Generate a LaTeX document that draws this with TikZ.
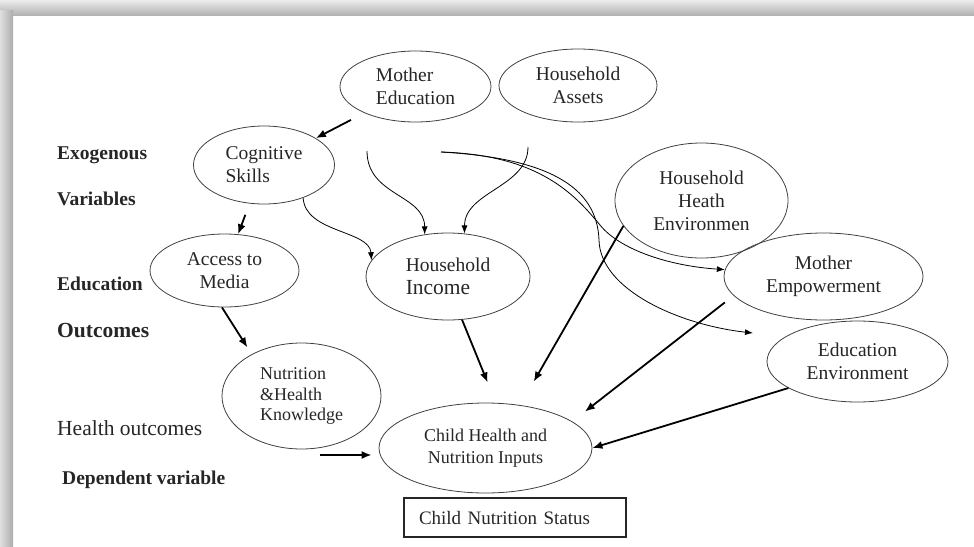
\documentclass[tikz,border=0pt]{standalone}
\usepackage{fontspec}
\setmainfont{Liberation Serif}
\usetikzlibrary{shapes,arrows,arrows.meta,positioning}
\tikzstyle{line} = [draw, -{Latex[length=8pt,width=6pt]}, line width=0.8pt]
\tikzstyle{thickline} = [draw, -{Latex[length=10pt,width=8pt]}, line width=1.8pt]
\tikzstyle{oval} = [draw=black!75, line width=0.8pt, ellipse, text centered, inner sep=0pt, text=black!85]
\tikzstyle{sidetext} = [anchor=base west, inner sep=0pt, text=black!85]
\tikzstyle{statusbox} = [draw=black!85, rectangle, line width=1.8pt, minimum height=39pt, text width=192pt, inner xsep=15pt, align=left, text=black!85]
\newcommand{\ovalfont}{\fontsize{19.5}{23}\selectfont}

\begin{document}
\begin{tikzpicture}[x=1pt, y=-1pt, font=\ovalfont]
        \useasboundingbox (0,0) rectangle (974,546);
        % screenshot frame
        \shade[top color=gray!15, bottom color=gray!60] (0,0) rectangle (974,15);
        \shade[left color=gray!25, right color=gray!65] (0,10) rectangle (13,546);
        % row labels
        \node[sidetext, font=\bfseries\ovalfont] (exo) at (57,159) {Exogenous};
        \node[sidetext, font=\bfseries\ovalfont] (vars) at (57,205) {Variables};
        \node[sidetext, font=\bfseries\ovalfont] (edu) at (57,290) {Education};
        \node[sidetext, font=\bfseries\fontsize{21.5}{23}\selectfont] (outc) at (57,337) {Outcomes};
        \node[sidetext, font=\fontsize{21.5}{23}\selectfont] (hout) at (57,435) {Health outcomes};
        \node[sidetext, font=\bfseries\ovalfont] (dep) at (62,484) {Dependent variable};
        % exogenous variables
        \node[oval, minimum width=151pt, minimum height=71pt, align=left] (medu) at (415.5,86.5) {Mother\\Education};
        \node[oval, minimum width=158pt, minimum height=73pt, align=center] (hassets) at (578,85.5) {Household\\Assets};
        \node[oval, minimum width=141pt, minimum height=78pt, align=left] (cskills) at (264,165) {Cognitive\\Skills};
        \node[oval, minimum width=173pt, minimum height=115pt, align=center] (hhealth) at (701.5,200.5) {Household\\Heath\\Environmen};
        % education outcomes
        \node[oval, minimum width=149pt, minimum height=73pt, align=center] (amedia) at (224.5,270.5) {Access to\\Media};
        \node[oval, minimum width=164pt, minimum height=87pt, align=left] (hincome) at (448,276.5) {Household\\{\fontsize{21.5}{23}\selectfont Income}};
        \node[oval, minimum width=199pt, minimum height=87pt, align=center] (mempower) at (823.5,276.5) {Mother\\Empowerment};
        \node[oval, minimum width=181pt, minimum height=81pt, align=center] (eenv) at (857.5,361.5) {Education\\Environment};
        % health outcomes
        \node[oval, minimum width=159pt, minimum height=106pt, align=left, font=\fontsize{18}{20.5}\selectfont] (knowledge) at (301.5,396) {Nutrition\\\&Health\\Knowledge};
        \node[oval, minimum width=213pt, minimum height=90pt, align=center, font=\fontsize{18}{22}\selectfont] (inputs) at (485.5,448) {Child Health and\\Nutrition Inputs};
        % dependent variable
        \node[statusbox, below=4pt of inputs, xshift=29.5pt, font=\fontsize{19}{23}\selectfont] (status) {Child Nutrition Status};
        % free ends
        \coordinate (mstart) at (367,151);
        \coordinate (astart) at (528,147);
        \coordinate (dstart) at (441,152);
        \coordinate (etip) at (753,333);
        \coordinate (kstart) at (320,455);
        % connectors
        \path[thickline, shorten <=15pt] (medu) -- (cskills);
        \path[thickline, shorten <=12pt] (cskills) -- (amedia);
        \path[line] (cskills.-40) .. controls +(2,35) and +(-2,-30) .. (hincome.168);
        \path[line] (mstart) .. controls +(0,45) and +(0,-40) .. (hincome.119);
        \path[line] (astart) .. controls +(0,40) and +(0,-42) .. (hincome.69);
        \path[line] (dstart) .. controls (540,155) and (575,195) .. (600,225) .. controls (620,250) and (670,266) .. (mempower.176);
        \path[line] (dstart) .. controls (545,158) and (597,185) .. (599,240) .. controls (600,290) and (680,325) .. (etip);
        \path[thickline, shorten >=8pt] (amedia.-94) -- (knowledge.140);
        \path[thickline, shorten >=7pt] (kstart) -- (kstart -| inputs.west);
        \path[thickline, shorten >=22pt] (hincome.-72) -- (inputs.77);
        \path[thickline, shorten >=27pt] (hhealth.198) -- (inputs.51);
        \path[thickline, shorten <=11pt, shorten >=16pt] (mempower.192) -- (inputs.17);
        \path[thickline] (eenv.201) -- (inputs.east);
\end{tikzpicture}
\end{document}
